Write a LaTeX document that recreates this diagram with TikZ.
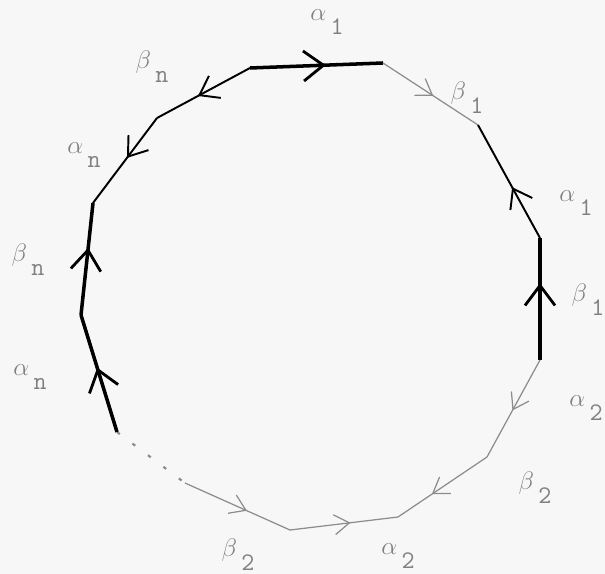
\documentclass[tikz,border=0pt]{standalone}
\usetikzlibrary{arrows.meta,decorations.markings}
\newcommand{\lab}[2]{$#1$\raisebox{-1.3ex}{\,\texttt{#2}}}
\tikzset{
  dark/.style={line width=1.1pt,>={Straight Barb[length=3.5mm,width=5mm,line width=1.1pt]}},
  heavy/.style={line width=2pt,>={Straight Barb[length=4mm,width=6mm,line width=1.6pt]}},
  faint/.style={line width=0.7pt,black!45,>={Straight Barb[length=3mm,width=4mm,line width=0.7pt]}},
  midtip/.style={postaction={decorate,decoration={markings,mark=at position #1 with {\arrow{>}}}}},
  lbl/.style={black!50,font=\Large}
}
\begin{document}
\begin{tikzpicture}[x=0.02cm,y=-0.02cm]
	\fill[black!3] (0,0) rectangle (605,574);
	\useasboundingbox (0,0) rectangle (605,574);
	
	\coordinate (v0) at (250,68);
	\coordinate (v1) at (383,63);
	\coordinate (v2) at (478,125);
	\coordinate (v3) at (540,238);
	\coordinate (v4) at (540,360);
	\coordinate (v5) at (487,457);
	\coordinate (v6) at (398,517);
	\coordinate (v7) at (290,530);
	\coordinate (v8) at (185,483);
	\coordinate (v9) at (117,432);
	\coordinate (v10) at (81,315);
	\coordinate (v11) at (93,203);
	\coordinate (v12) at (157,118);
	
	\node[lbl] (a1) at (327,22) {\lab{\alpha}{1}};
	\node[lbl] (b1) at (467,98) {\lab{\beta}{1}};
	\node[lbl] (a1r) at (576,203) {\lab{\alpha}{1}};
	\node[lbl] (b1r) at (588,300) {\lab{\beta}{1}};
	\node[lbl] (a2r) at (586,408) {\lab{\alpha}{2}};
	\node[lbl] (b2r) at (535,488) {\lab{\beta}{2}};
	\node[lbl] (a2) at (398,556) {\lab{\alpha}{2}};
	\node[lbl] (b2) at (238,555) {\lab{\beta}{2}};
	\node[lbl] (anl) at (30,377) {\lab{\alpha}{n}};
	\node[lbl] (bnl) at (28,260) {\lab{\beta}{n}};
	\node[lbl] (an) at (84,155) {\lab{\alpha}{n}};
	\node[lbl] (bn) at (152,67) {\lab{\beta}{n}};
	
	\draw[heavy,midtip=.57] (v0)--(v1);
	\draw[faint,midtip=.53] (v1)--(v2);
	\draw[dark,midtip=.45] (v3)--(v2);
	\draw[heavy,midtip=.63] (v4)--(v3);
	\draw[faint,midtip=.52] (v4)--(v5);
	\draw[faint,midtip=.62] (v5)--(v6);
	\draw[faint,midtip=.56] (v7)--(v6);
	\draw[faint,midtip=.59] (v8)--(v7);
	\draw[faint,line width=1.2pt,dash pattern=on 2pt off 9pt] (v9)--(v8);
	\draw[heavy,midtip=.55] (v9)--(v10);
	\draw[heavy,midtip=.6] (v10)--(v11);
	\draw[dark,midtip=.47] (v12)--(v11);
	\draw[dark,midtip=.56] (v0)--(v12);
\end{tikzpicture}
\end{document}
